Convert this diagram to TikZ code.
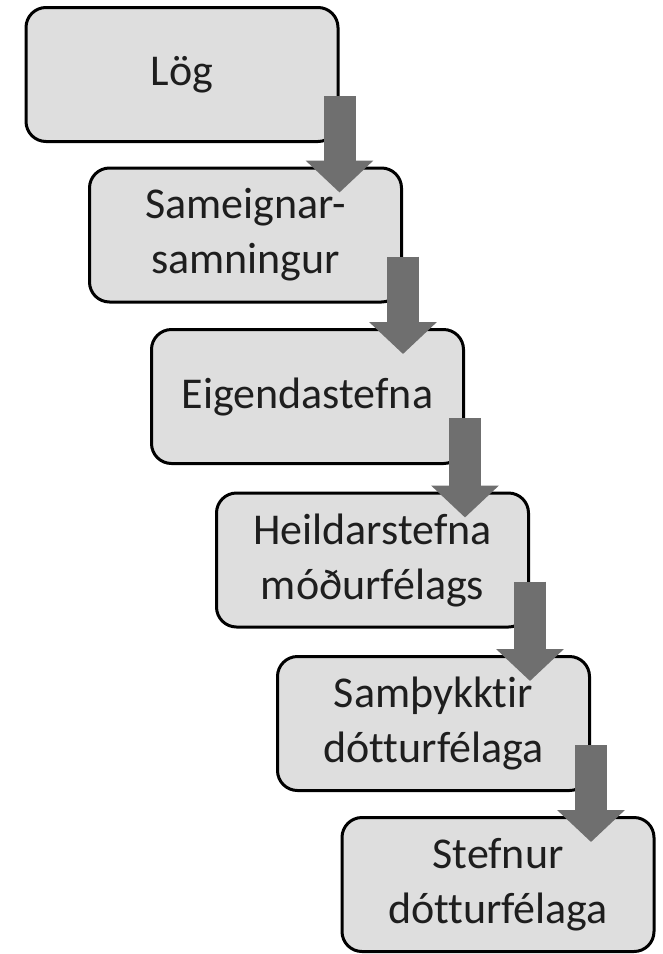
\documentclass[tikz,border=0pt]{standalone}
\usepackage{fontspec}
\setmainfont{Carlito}[Ligatures={NoCommon}]
\usetikzlibrary{calc,arrows.meta}
\definecolor{boxgray}{HTML}{DEDEDE}
\definecolor{arrowgray}{HTML}{6F6F6F}
\definecolor{textgray}{HTML}{1E1E1E}
\tikzset{
       level/.style = { draw=black, line width=3pt, fill=boxgray, rounded corners=20pt,
                        minimum width=312pt, minimum height=134pt, align=center,
                        text=textgray, font=\fontsize{44}{55}\selectfont },
        flow/.style = { draw=arrowgray, line width=32pt,
                        -{Triangle[width=66pt,length=32pt]} }
}
\begin{document}
\begin{tikzpicture}[x=1pt, y=1pt]
  \useasboundingbox (0,0) rectangle (663,-954);

  % boxes
  \node (log)  at (182,-74.5)   [level] {Lög};
  \node (sam)  at (245.5,-235)  [level] {Sameignar-\\samningur};
  \node (eig)  at (307.5,-396.5)[level] {Eigendastefna};
  \node (heil) at (372.5,-560)  [level] {Heildarstefna\\móðurfélags};
  \node (samth) at (433.5,-723.5)[level] {Samþykktir\\dótturfélaga};
  \node (stef) at (498,-884.5)  [level] {Stefnur\\dótturfélaga};

  % arrows
  \draw [flow] ($(log.south east)+(0,47)$)   -- ($(log.south east |- sam.north)+(0,-26)$);
  \draw [flow] ($(sam.south east)+(0,47)$)   -- ($(sam.south east |- eig.north)+(0,-26)$);
  \draw [flow] ($(eig.south east)+(0,47)$)   -- ($(eig.south east |- heil.north)+(0,-26)$);
  \draw [flow] ($(heil.south east)+(0,47)$)  -- ($(heil.south east |- samth.north)+(0,-26)$);
  \draw [flow] ($(samth.south east)+(0,47)$) -- ($(samth.south east |- stef.north)+(0,-26)$);
\end{tikzpicture}
\end{document}
